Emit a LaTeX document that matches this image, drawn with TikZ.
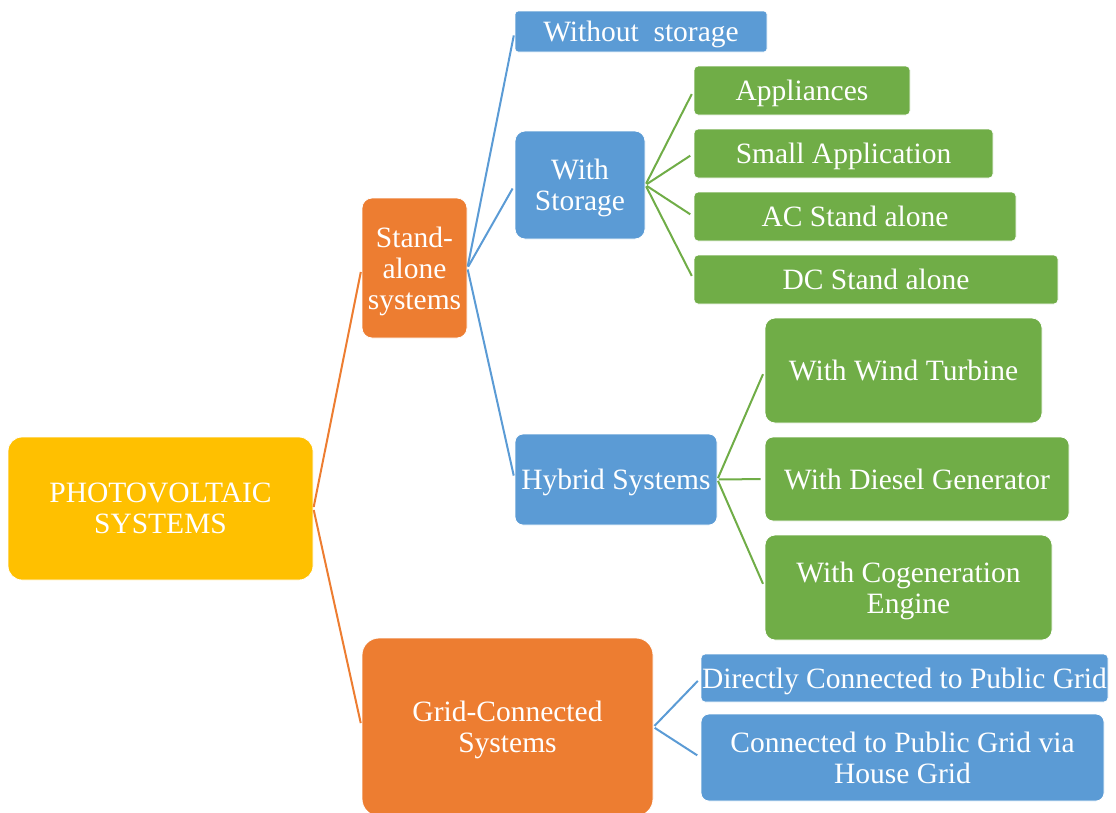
\documentclass[tikz,border=0pt]{standalone}
\usepackage{fontspec}
\setmainfont{Liberation Serif}
\usepackage{tikz}
\definecolor{pvYellow}{HTML}{FFC000}
\definecolor{pvOrange}{HTML}{ED7D31}
\definecolor{pvBlue}{HTML}{5B9BD5}
\definecolor{pvGreen}{HTML}{70AD47}

\begin{document}
\begin{tikzpicture}[
  x=1pt,
  y=-1pt,
  every system box/.style={
    draw=white,
    line width=0.8pt,
    text=white,
    align=center,
    inner sep=0pt,
    text depth=0pt,
    font=\fontsize{29.5}{31}\selectfont,
  },
  yellow box/.style={every system box, fill=pvYellow},
  orange box/.style={every system box, fill=pvOrange},
  blue box/.style={every system box, fill=pvBlue},
  green box/.style={every system box, fill=pvGreen},
  link/.style={
    draw=#1,
    line width=2pt,
    shorten <=1.5pt,
    shorten >=4pt,
  },
]
\clip (0,0) rectangle (1116,812);
% root
\node[yellow box, minimum width=305pt, minimum height=143pt, rounded corners=14pt]
  (pvSystems) at (160.5,508.5) {PHOTOVOLTAIC\\SYSTEMS};
% first level
\node[orange box, minimum width=105pt, minimum height=140pt, rounded corners=10pt]
  (standAlone) at (414.5,268) {Stand-\\alone\\systems};
\node[orange box, minimum width=291pt, minimum height=178pt, rounded corners=17pt]
  (gridConnected) at (507.5,727) {Grid-Connected\\Systems};
% stand-alone branch
\node[blue box, minimum width=252pt, minimum height=41pt, rounded corners=3pt]
  (withoutStorage) at (641,31.5) {Without~ storage};
\node[blue box, minimum width=130pt, minimum height=108pt, rounded corners=10pt]
  (withStorage) at (580,185) {With\\Storage};
\node[blue box, minimum width=202pt, minimum height=91pt, rounded corners=8pt]
  (hybridSystems) at (616,479.5) {Hybrid Systems};
% with storage
\node[green box, minimum width=216pt, minimum height=49pt, rounded corners=4pt]
  (appliances) at (802,90.5) {Appliances};
\node[green box, minimum width=299pt, minimum height=49pt, rounded corners=4pt]
  (smallApplication) at (843.5,153.5) {Small Application};
\node[green box, minimum width=322pt, minimum height=49pt, rounded corners=4pt]
  (acStandAlone) at (855,216.5) {AC Stand alone};
\node[green box, minimum width=364pt, minimum height=49pt, rounded corners=4pt]
  (dcStandAlone) at (876,279.5) {DC Stand alone};
% hybrid
\node[green box, minimum width=277pt, minimum height=105pt, rounded corners=10pt]
  (windTurbine) at (903.5,370.5) {With Wind Turbine};
\node[green box, minimum width=304pt, minimum height=84pt, rounded corners=8pt]
  (dieselGenerator) at (917,479) {With Diesel Generator};
\node[green box, minimum width=287pt, minimum height=105pt, rounded corners=10pt]
  (cogenerationEngine) at (908.5,587.5) {With Cogeneration\\Engine};
% grid-connected
\node[blue box, minimum width=407pt, minimum height=48pt, rounded corners=4pt]
  (directGrid) at (904.5,678) {Directly Connected to Public Grid};
\node[blue box, minimum width=403pt, minimum height=87pt, rounded corners=8pt]
  (houseGrid) at (902.5,757.5) {Connected to Public Grid via\\House Grid};
% connectors
\draw[link=pvOrange] (pvSystems.east) -- (standAlone.west);
\draw[link=pvOrange] (pvSystems.east) -- (gridConnected.west);
\foreach \child in {withoutStorage, withStorage, hybridSystems}
  \draw[link=pvBlue] (standAlone.east) -- (\child.west);
\foreach \child in {appliances, smallApplication, acStandAlone, dcStandAlone}
  \draw[link=pvGreen] (withStorage.east) -- (\child.west);
\foreach \child in {windTurbine, dieselGenerator, cogenerationEngine}
  \draw[link=pvGreen] (hybridSystems.east) -- (\child.west);
\foreach \child in {directGrid, houseGrid}
  \draw[link=pvBlue] (gridConnected.east) -- (\child.west);
\end{tikzpicture}
\end{document}
